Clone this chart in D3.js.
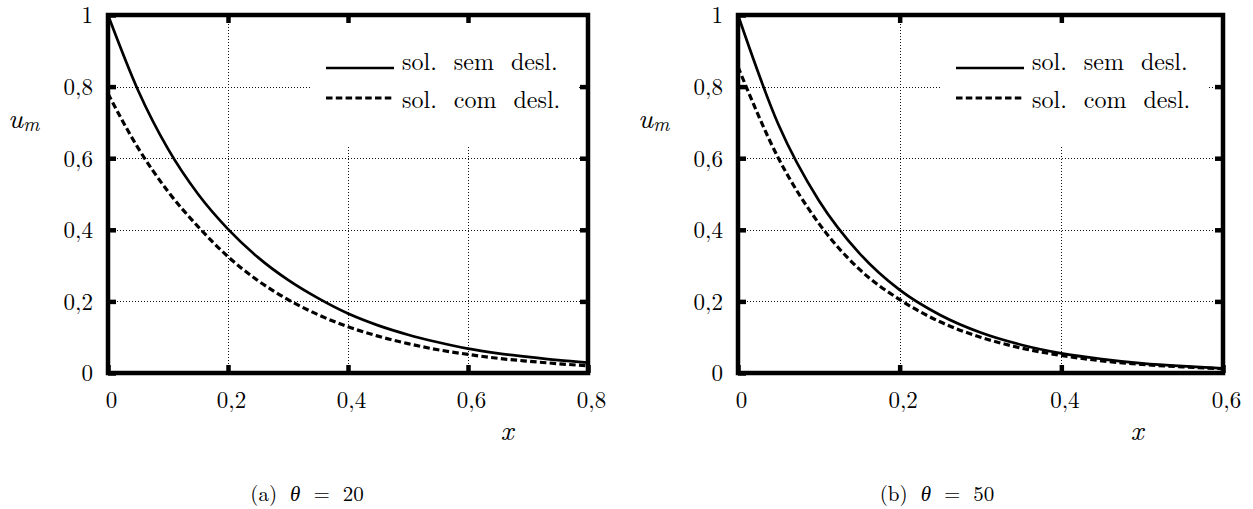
<!DOCTYPE html>
<html>
<head>
<meta charset="utf-8">
<script src="https://cdn.jsdelivr.net/npm/d3@7"></script>
<style>body { margin: 0; background: #fff; }</style>
</head>
<body>
<svg id="chart" width="1253" height="509"></svg>
<script>
// ---- data -------------------------------------------------------------
// panel (a): theta = 20
const xA = [0, 0.05, 0.1, 0.15, 0.2, 0.25, 0.3, 0.35, 0.4, 0.45, 0.5, 0.55, 0.6, 0.65, 0.7, 0.75, 0.8];
const semDeslA = [1.000, 0.790, 0.626, 0.500, 0.402, 0.323, 0.260, 0.209, 0.166, 0.133, 0.107, 0.086, 0.068, 0.055, 0.045, 0.036, 0.029];
const comDeslA = [0.780, 0.629, 0.507, 0.409, 0.325, 0.258, 0.205, 0.163, 0.129, 0.103, 0.082, 0.065, 0.052, 0.041, 0.033, 0.026, 0.020];

// panel (b): theta = 50
const xB = [0, 0.05, 0.1, 0.15, 0.2, 0.25, 0.3, 0.35, 0.4, 0.45, 0.5, 0.55, 0.6];
const semDeslB = [1.000, 0.694, 0.482, 0.335, 0.232, 0.162, 0.113, 0.079, 0.055, 0.039, 0.027, 0.019, 0.013];
const comDeslB = [0.855, 0.600, 0.418, 0.290, 0.205, 0.143, 0.100, 0.070, 0.049, 0.034, 0.024, 0.017, 0.012];

// axes
const yTicks = [0, 0.2, 0.4, 0.6, 0.8, 1];
const yTickLabels = ["0", "0,2", "0,4", "0,6", "0,8", "1"];
const xTicksA = [0, 0.2, 0.4, 0.6, 0.8];
const xTickLabelsA = ["0", "0,2", "0,4", "0,6", "0,8"];
const xTicksB = [0, 0.2, 0.4, 0.6];
const xTickLabelsB = ["0", "0,2", "0,4", "0,6"];

const seriesNames = ["sol. sem desl.", "sol. com desl."];
const captionTags = ["(a)", "(b)"];
const thetaValues = [20, 50];

// ---- layout -------------------------------------------------------------
const textFont = "Latin Modern Roman";
const svg = d3.select("#chart");
const panels = [
  { left: 108, right: 588, xMax: 0.8, xs: xA, sem: semDeslA, com: comDeslA,
    ticks: xTicksA, labels: xTickLabelsA, tag: captionTags[0], theta: thetaValues[0] },
  { left: 738, right: 1223, xMax: 0.6, xs: xB, sem: semDeslB, com: comDeslB,
    ticks: xTicksB, labels: xTickLabelsB, tag: captionTags[1], theta: thetaValues[1] }
];
const plotTop = 15, plotBottom = 373;
const tickLen = 8;

// serif face set directly on each text node
const useFont = (sel, size) => sel
  .attr("font-family", textFont).style("font-family", textFont)
  .attr("font-size", size).attr("fill", "#000");

panels.forEach(p => {
  const g = svg.append("g");
  const x = d3.scaleLinear().domain([0, p.xMax]).range([p.left, p.right]);
  const y = d3.scaleLinear().domain([0, 1]).range([plotBottom, plotTop]);

  const innerX = p.ticks.filter(v => v > 0 && v < p.xMax);
  const innerY = yTicks.filter(v => v > 0 && v < 1);

  // dotted grid
  const grid = g.append("g")
    .attr("stroke", "#111").attr("stroke-width", 1).attr("stroke-dasharray", "1,2").attr("fill", "none");
  grid.selectAll("line.gx").data(innerX).join("line")
    .attr("x1", d => Math.round(x(d)) + 0.5).attr("x2", d => Math.round(x(d)) + 0.5)
    .attr("y1", plotTop).attr("y2", plotBottom);
  grid.selectAll("line.gy").data(innerY).join("line")
    .attr("x1", p.left).attr("x2", p.right)
    .attr("y1", d => Math.round(y(d)) + 0.5).attr("y2", d => Math.round(y(d)) + 0.5);

  // legend backdrop hides the grid behind it
  const lx = p.left + 202;
  g.append("rect").attr("x", lx).attr("y", plotTop + 2).attr("width", 268).attr("height", 130)
    .attr("fill", "#fff");

  // curves
  const line = d3.line().x(d => x(d[0])).y(d => y(d[1])).curve(d3.curveMonotoneX);
  g.append("path").datum(p.xs.map((v, i) => [v, p.sem[i]]))
    .attr("d", line).attr("fill", "none").attr("stroke", "#000").attr("stroke-width", 2.7);
  g.append("path").datum(p.xs.map((v, i) => [v, p.com[i]]))
    .attr("d", line).attr("fill", "none").attr("stroke", "#000").attr("stroke-width", 3.2)
    .attr("stroke-dasharray", "6.5,3.3");

  // legend
  const legend = g.append("g");
  legend.append("line").attr("x1", lx + 16).attr("x2", lx + 84).attr("y1", 68).attr("y2", 68)
    .attr("stroke", "#000").attr("stroke-width", 2.7);
  legend.append("line").attr("x1", lx + 16).attr("x2", lx + 84).attr("y1", 98).attr("y2", 98)
    .attr("stroke", "#000").attr("stroke-width", 3.2).attr("stroke-dasharray", "6.5,3.3");
  legend.selectAll("text").data(seriesNames).join("text")
    .attr("x", lx + 92).attr("y", (d, i) => i === 0 ? 70 : 108)
    .attr("word-spacing", 9)
    .call(useFont, 24)
    .text(d => d);

  // inward ticks on all four sides
  const tickStyle = sel => {
    sel.attr("font-family", textFont).attr("font-size", 23);
    sel.select(".domain").remove();
    sel.selectAll(".tick line").attr("stroke", "#000").attr("stroke-width", 4.5);
  };
  const xFmt = d => p.labels[p.ticks.indexOf(d)];
  const yFmt = d => yTickLabels[yTicks.indexOf(d)];

  const bAxis = g.append("g").attr("transform", `translate(0,${plotBottom})`)
    .call(d3.axisBottom(x).tickValues(p.ticks).tickSize(-tickLen).tickPadding(19).tickFormat(xFmt));
  tickStyle(bAxis);
  bAxis.selectAll(".tick text").attr("dx", 3).call(useFont, 23);

  const tAxis = g.append("g").attr("transform", `translate(0,${plotTop})`)
    .call(d3.axisTop(x).tickValues(innerX).tickSize(-tickLen).tickFormat(""));
  tickStyle(tAxis);

  const lAxis = g.append("g").attr("transform", `translate(${p.left},0)`)
    .call(d3.axisLeft(y).tickValues(yTicks).tickSize(-tickLen).tickPadding(15).tickFormat(yFmt));
  tickStyle(lAxis);
  lAxis.selectAll(".tick text").attr("dy", "0.34em").call(useFont, 23);

  const rAxis = g.append("g").attr("transform", `translate(${p.right},0)`)
    .call(d3.axisRight(y).tickValues(innerY).tickSize(-tickLen).tickFormat(""));
  tickStyle(rAxis);

  // frame
  g.append("rect").attr("x", p.left).attr("y", plotTop)
    .attr("width", p.right - p.left).attr("height", plotBottom - plotTop)
    .attr("fill", "none").attr("stroke", "#000").attr("stroke-width", 4.5);

  // axis titles
  g.append("text").attr("x", p.left - 100).attr("y", 128)
    .call(useFont, 28).attr("font-style", "italic")
    .call(t => {
      t.append("tspan").text("u");
      t.append("tspan").attr("font-size", 20).attr("dy", 3).text("m");
    });
  g.append("text").attr("x", p.left + 399).attr("y", 440)
    .call(useFont, 28).attr("font-style", "italic")
    .attr("text-anchor", "middle").text("x");

  // caption
  const cap = g.append("text").attr("x", p.left + 199).attr("y", 501)
    .call(useFont, 21).attr("text-anchor", "middle")
    .attr("word-spacing", 6);
  cap.append("tspan").text(p.tag + " ");
  cap.append("tspan").attr("font-style", "italic").text("θ");
  cap.append("tspan").text(" = " + p.theta);
});
</script>
</body>
</html>
